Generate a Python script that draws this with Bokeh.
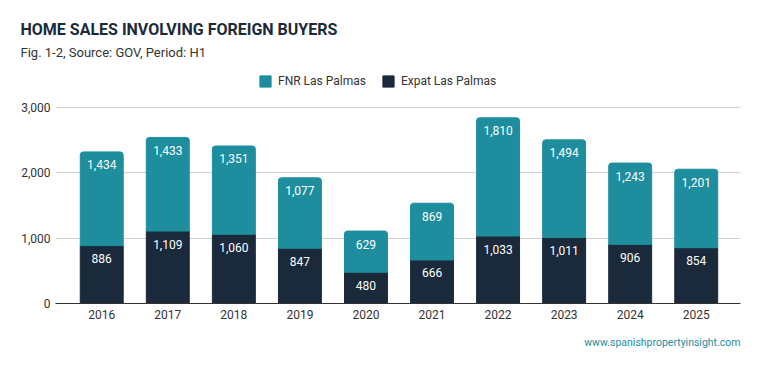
from bokeh.plotting import figure
from bokeh.models import ColumnDataSource, Legend, LegendItem, FixedTicker, NumeralTickFormatter, Range1d, Title
from bokeh.embed import file_html
from bokeh.resources import INLINE
from bokeh.core.properties import value

years = [2016, 2017, 2018, 2019, 2020, 2021, 2022, 2023, 2024, 2025]
expat = [886, 1109, 1060, 847, 480, 666, 1033, 1011, 906, 854]
fnr = [1434, 1433, 1351, 1077, 629, 869, 1810, 1494, 1243, 1201]
y_ticks = [0, 1000, 2000, 3000]

TEAL = "#1e8e9e"
NAVY = "#1a2a3a"
FONT = "Roboto"

totals = [a + b for a, b in zip(expat, fnr)]
src = ColumnDataSource(dict(
    x=years, expat=expat, fnr=fnr, total=totals,
    expat_lbl=[f"{v:,}" for v in expat], fnr_lbl=[f"{v:,}" for v in fnr],
))

# frame: top at 62px, bottom at 303px; 3000 gridline lands ~107px
p = figure(width=751, height=363, output_backend="svg", toolbar_location=None,
           x_range=Range1d(2015.3, 2025.67), y_range=Range1d(0, 3689),
           min_border_left=55, min_border_right=11, min_border_top=62, min_border_bottom=60)
p.title = None
p.outline_line_color = None
p.background_fill_color = "white"
p.border_fill_color = "white"

r1 = p.vbar(x="x", bottom=0, top="expat", width=0.65, color=NAVY, source=src)
r2 = p.vbar(x="x", bottom="expat", top="total", width=0.65, color=TEAL, source=src,
            border_radius=(3, 3, 0, 0))

p.text(x="x", y="expat", text="expat_lbl", source=src, text_color="white",
       text_align="center", text_baseline="middle", y_offset=13,
       text_font=value(FONT), text_font_size="12px")
p.text(x="x", y="total", text="fnr_lbl", source=src, text_color="white",
       text_align="center", text_baseline="middle", y_offset=13,
       text_font=value(FONT), text_font_size="12px")

p.xaxis.ticker = FixedTicker(ticks=years)
p.yaxis.ticker = FixedTicker(ticks=y_ticks)
p.yaxis.formatter = NumeralTickFormatter(format="0,0")
for ax in (p.xaxis, p.yaxis):
    ax.major_tick_line_color = None
    ax.minor_tick_line_color = None
    ax.major_tick_out = 0
    ax.major_tick_in = 0
    ax.minor_tick_out = 0
    ax.major_label_text_font = FONT
    ax.major_label_text_font_size = "12px"
    ax.major_label_text_color = "#333333"
p.yaxis.axis_line_color = None
p.yaxis.major_label_standoff = 5
p.xaxis.axis_line_color = "#333333"
p.xaxis.axis_line_width = 1
p.xaxis.major_label_standoff = 6
p.xgrid.grid_line_color = None
p.ygrid.grid_line_color = "#d0d0d0"

legend = Legend(items=[LegendItem(label="FNR Las Palmas", renderers=[r2]),
                       LegendItem(label="Expat Las Palmas", renderers=[r1])],
                orientation="horizontal", location=(203, 215),
                border_line_color=None, background_fill_alpha=0,
                glyph_width=14, glyph_height=14, label_standoff=6, spacing=15,
                label_text_font=FONT, label_text_font_size="12px", label_text_color="#333333",
                padding=0, margin=0)
p.add_layout(legend, "center")

p.add_layout(Title(text="Fig. 1-2, Source: GOV, Period: H1", text_font=FONT,
                   text_font_size="13px", text_font_style="normal", text_color="#333333",
                   align="left", offset=-35, standoff=5), "above")
p.add_layout(Title(text="HOME SALES INVOLVING FOREIGN BUYERS", text_font=FONT,
                   text_font_size="16px", text_font_style="bold", text_color=NAVY,
                   align="left", offset=-35, standoff=3), "above")
p.add_layout(Title(text="www.spanishpropertyinsight.com", text_font=FONT,
                   text_font_size="10.5px", text_font_style="normal", text_color=TEAL,
                   align="right", offset=0, standoff=25), "below")

open("out.html", "w").write(file_html(p, INLINE))
